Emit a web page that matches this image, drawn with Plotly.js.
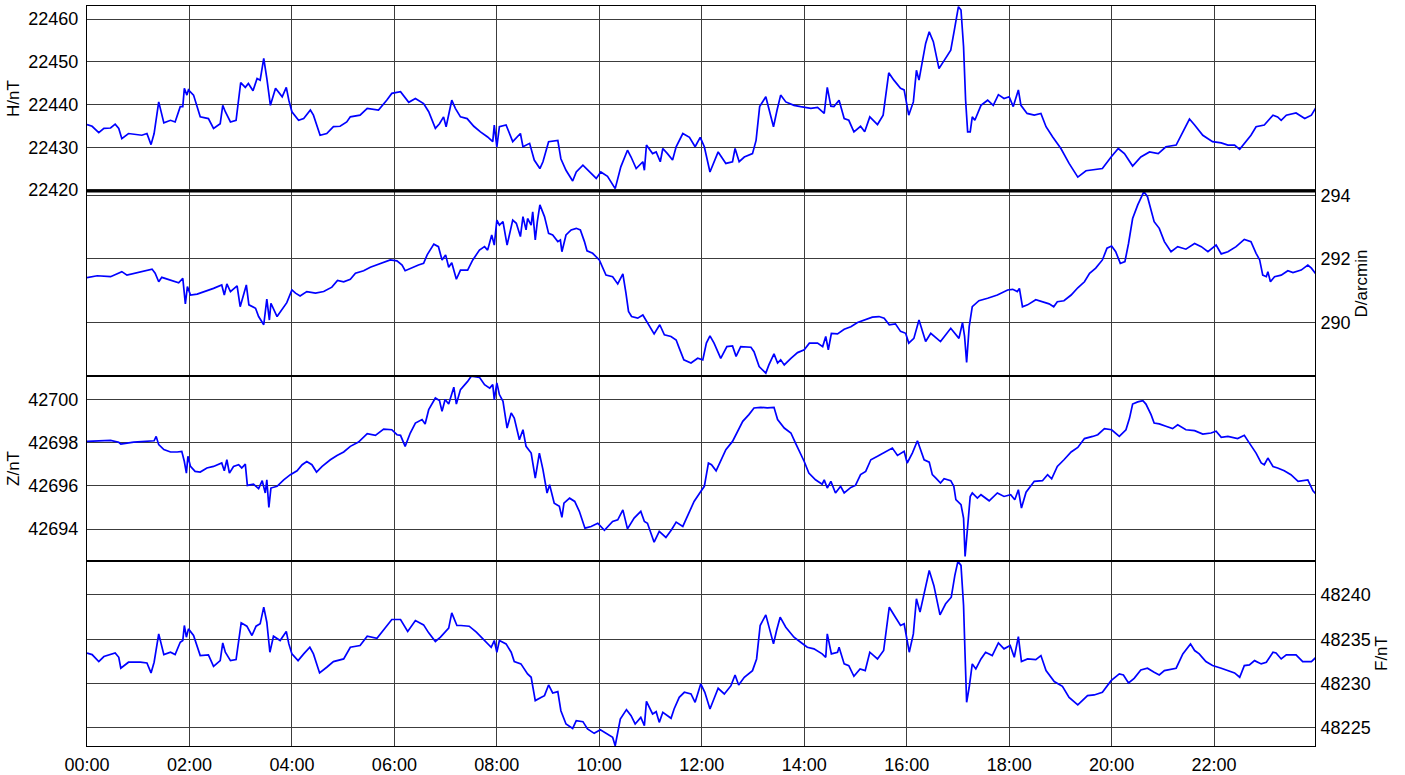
<!DOCTYPE html>
<html>
<head>
<meta charset="utf-8">
<script src="https://cdn.plot.ly/plotly-3.0.1.min.js"></script>
<style>
html,body{margin:0;padding:0;background:#fff;}
#chart{width:1405px;height:775px;}
</style>
</head>
<body>
<div id="chart"></div>
<script>
// ---- tick labels ----
const timeTickVals = [0, 2, 4, 6, 8, 10, 12, 14, 16, 18, 20, 22];
const timeTickText = ["00:00","02:00","04:00","06:00","08:00","10:00","12:00","14:00","16:00","18:00","20:00","22:00"];

// ---- H component (nT), time in hours ----
const hTime = [0.00,0.10,0.23,0.33,0.46,0.55,0.62,0.68,0.81,0.98,1.07,1.17,1.25,1.31,1.40,1.50,1.63,1.72,1.82,1.87,1.90,1.95,1.98,2.08,2.21,2.37,2.47,2.60,2.65,2.70,2.80,2.91,3.00,3.09,3.15,3.24,3.32,3.38,3.45,3.51,3.58,3.68,3.81,3.89,3.94,4.00,4.13,4.23,4.36,4.42,4.55,4.68,4.81,4.94,5.07,5.14,5.33,5.47,5.69,5.85,5.95,6.12,6.28,6.41,6.57,6.67,6.80,6.88,6.96,7.01,7.06,7.12,7.19,7.29,7.42,7.55,7.68,
7.82,7.92,7.95,8.00,8.05,8.18,8.31,8.46,8.51,8.64,8.73,8.84,8.90,9.01,9.19,9.25,9.35,9.48,9.55,9.68,9.84,9.94,10.03,10.16,10.31,10.42,10.55,10.62,10.72,10.85,10.88,10.92,11.04,11.11,11.19,11.24,11.33,11.43,11.50,11.63,11.76,11.87,11.97,12.05,12.16,12.32,12.47,12.60,12.65,12.73,12.83,12.99,13.06,13.13,13.25,13.32,13.40,13.47,13.54,13.64,13.80,13.93,14.13,14.26,14.39,14.45,14.52,14.58,14.68,14.78,14.87,14.97,15.10,15.18,15.28,15.43,15.54,15.65,15.75,15.88,15.95,16.04,16.13,16.19,16.24,
16.27,16.37,16.44,16.52,16.63,16.73,16.86,16.93,17.01,17.06,17.11,17.15,17.19,17.24,17.28,17.33,17.45,17.58,17.69,17.79,17.90,18.00,18.08,18.18,18.23,18.35,18.49,18.62,18.72,18.85,19.01,19.17,19.34,19.50,19.66,19.82,19.99,20.13,20.25,20.41,20.57,20.74,20.91,21.06,21.26,21.39,21.52,21.62,21.78,21.97,22.14,22.27,22.40,22.50,22.59,22.72,22.82,22.98,23.15,23.24,23.31,23.41,23.60,23.77,23.90,23.99];
const hValues = [22435.3,22434.9,22433.4,22434.4,22434.5,22435.4,22434.4,22432.0,22433.2,22433.0,22432.8,22433.2,22430.6,22433.2,22440.6,22435.7,22436.3,22435.9,22439.5,22439.5,22443.8,22442.2,22443.4,22442.2,22437.1,22436.7,22434.4,22435.5,22439.8,22438.3,22435.9,22436.3,22445.1,22444.0,22444.9,22443.2,22446.1,22445.7,22450.8,22446.1,22439.8,22443.8,22441.8,22444.0,22441.0,22438.3,22436.3,22436.7,22438.7,22437.5,22432.8,22433.2,22434.8,22434.9,22435.9,22437.1,22437.5,22439.1,22438.7,22441.0,22442.6,22443.0,22440.5,22441.4,22440.2,22438.3,22434.4,22435.5,22437.1,22434.8,22437.5,22441.0,22439.1,22437.1,22436.7,22434.9,22433.6,
22432.4,22431.3,22435.2,22430.1,22434.8,22435.2,22431.3,22433.2,22430.1,22430.9,22427.0,22425.0,22426.6,22431.3,22431.6,22427.3,22424.6,22422.1,22424.2,22425.8,22423.8,22422.7,22424.2,22423.2,22420.3,22425.4,22429.3,22427.7,22425.0,22426.6,22424.6,22430.5,22428.5,22428.9,22426.6,22429.7,22428.5,22427.0,22430.1,22433.2,22432.3,22430.1,22432.3,22430.1,22424.2,22428.9,22426.2,22426.6,22429.7,22426.6,22427.7,22428.5,22431.6,22439.5,22441.8,22438.7,22434.8,22438.7,22442.2,22440.6,22439.8,22439.5,22439.1,22439.3,22437.9,22444.0,22439.6,22439.5,22441.0,22436.7,22436.3,22433.6,22434.9,22433.6,22437.1,22435.3,22437.5,22447.4,22445.7,22443.8,22443.4,22437.5,22440.6,22448.0,22445.7,
22447.7,22454.3,22457.0,22454.7,22448.4,22450.4,22452.7,22457.4,22462.9,22462.1,22453.5,22441.0,22433.6,22433.6,22437.1,22436.3,22439.8,22441.0,22439.8,22442.3,22441.4,22441.8,22439.5,22443.4,22439.8,22437.9,22437.5,22437.9,22434.8,22432.4,22429.7,22426.2,22423.0,22424.5,22424.8,22425.0,22427.7,22429.7,22428.5,22425.6,22427.7,22428.9,22428.5,22430.1,22430.5,22433.6,22436.6,22435.2,22432.8,22431.3,22431.0,22430.5,22430.5,22429.5,22430.9,22432.8,22434.8,22435.2,22437.5,22437.1,22436.3,22437.5,22438.0,22436.7,22437.5,22439.3];

// ---- D component (arcmin) ----
const dTime = [0.00,0.20,0.46,0.68,0.78,0.98,1.17,1.27,1.33,1.40,1.46,1.63,1.79,1.87,1.92,1.96,2.02,2.15,2.31,2.47,2.63,2.68,2.73,2.80,2.93,2.99,3.11,3.16,3.29,3.35,3.45,3.51,3.56,3.59,3.71,3.84,3.90,4.00,4.07,4.16,4.29,4.46,4.62,4.78,4.89,5.01,5.14,5.24,5.40,5.53,5.72,5.92,6.05,6.15,6.21,6.38,6.47,6.57,6.64,6.77,6.86,6.93,7.00,7.06,7.12,7.21,7.29,
7.43,7.53,7.66,7.76,7.82,7.90,7.95,8.00,8.05,8.12,8.20,8.31,8.38,8.46,8.51,8.57,8.60,8.67,8.70,8.75,8.79,8.84,8.93,9.01,9.09,9.19,9.24,9.27,9.35,9.45,9.55,9.63,9.71,9.76,9.87,9.94,10.00,10.13,10.26,10.36,10.46,10.52,10.57,10.63,10.75,10.85,10.93,11.07,11.18,11.27,11.40,11.50,11.56,11.65,11.79,11.92,12.02,12.09,12.16,12.24,12.37,12.49,12.60,12.67,12.76,12.96,13.02,13.12,13.25,13.31,13.41,13.48,13.54,13.61,13.74,13.87,14.00,14.10,14.26,14.36,14.42,14.47,14.53,14.65,14.78,14.91,15.04,15.17,15.33,15.46,15.56,15.66,15.78,15.88,15.98,16.04,16.14,16.24,
16.37,16.47,16.66,16.86,17.02,17.09,17.13,17.17,17.22,17.28,17.41,17.58,17.77,17.97,18.07,18.16,18.20,18.26,18.36,18.52,18.68,18.78,18.87,18.94,19.07,19.21,19.34,19.47,19.57,19.69,19.82,19.91,20.00,20.08,20.17,20.26,20.33,20.41,20.51,20.63,20.70,20.83,20.93,21.03,21.16,21.29,21.45,21.62,21.75,21.88,22.04,22.14,22.27,22.43,22.59,22.72,22.82,22.89,22.95,23.02,23.05,23.10,23.18,23.31,23.44,23.54,23.70,23.83,23.90,23.99];
const dValues = [291.41,291.47,291.44,291.60,291.49,291.57,291.63,291.68,291.55,291.28,291.42,291.34,291.25,291.39,290.58,291.13,290.86,290.89,290.97,291.07,291.18,290.86,291.21,290.97,291.15,290.49,291.18,290.55,290.44,290.18,289.92,290.73,290.07,290.60,290.18,290.49,290.62,291.02,290.92,290.83,290.97,290.92,290.97,291.11,291.32,291.28,291.36,291.55,291.63,291.74,291.84,291.97,291.94,291.81,291.63,291.76,291.81,291.86,292.13,292.47,292.39,291.97,292.13,291.74,291.88,291.36,291.65,
291.65,291.97,292.28,292.39,292.28,292.76,292.44,293.23,293.07,293.18,292.44,293.23,293.13,292.71,293.34,292.92,293.28,293.07,293.49,292.60,293.18,293.71,293.34,292.81,292.76,292.55,292.60,292.23,292.76,292.92,292.97,292.92,292.55,292.26,292.18,292.05,291.97,291.49,291.44,291.21,291.53,290.92,290.34,290.18,290.13,290.23,290.02,289.63,289.92,289.60,289.55,289.44,289.18,288.81,288.71,288.86,288.81,289.34,289.57,289.34,288.86,289.23,289.25,288.92,289.23,289.21,289.07,288.60,288.39,288.65,289.00,288.71,288.81,288.65,288.86,289.04,289.13,289.34,289.34,289.23,289.55,289.13,289.65,289.63,289.78,289.86,289.99,290.07,290.16,290.18,290.13,289.92,289.95,289.71,289.65,289.34,289.49,290.07,
289.39,289.65,289.39,289.81,289.49,289.99,289.55,288.73,289.86,290.49,290.68,290.76,290.86,291.02,291.04,290.97,291.07,290.49,290.55,290.71,290.62,290.58,290.49,290.65,290.68,290.86,291.09,291.28,291.55,291.71,291.97,292.34,292.41,292.23,291.86,291.92,292.49,293.28,293.71,294.13,293.97,293.18,292.97,292.55,292.23,292.39,292.31,292.49,292.39,292.23,292.44,292.16,292.23,292.39,292.62,292.55,292.18,291.97,291.49,291.44,291.60,291.28,291.44,291.49,291.63,291.57,291.65,291.81,291.71,291.52];

// ---- Z component (nT) ----
const zTime = [0.00,0.20,0.46,0.62,0.66,0.91,1.17,1.31,1.35,1.40,1.50,1.63,1.76,1.85,1.90,1.94,1.97,2.02,2.11,2.21,2.34,2.47,2.63,2.68,2.73,2.78,2.86,2.96,3.02,3.09,3.13,3.25,3.35,3.42,3.48,3.51,3.55,3.59,3.71,3.84,3.97,4.10,4.20,4.29,4.39,4.48,4.59,4.75,4.88,5.01,5.14,5.30,5.47,5.63,5.79,5.95,6.05,6.12,6.21,6.31,6.41,6.54,6.60,6.67,6.80,6.88,6.93,6.99,7.06,7.16,7.21,7.29,
7.43,7.50,7.66,7.76,7.86,7.92,7.95,8.00,8.05,8.12,8.20,8.28,8.34,8.44,8.51,8.57,8.67,8.75,8.83,8.90,8.98,9.03,9.12,9.22,9.27,9.31,9.42,9.52,9.61,9.72,9.84,9.97,10.10,10.26,10.36,10.46,10.55,10.68,10.81,10.88,10.94,11.07,11.17,11.30,11.41,11.50,11.63,11.72,11.85,11.98,12.05,12.13,12.19,12.28,12.37,12.47,12.60,12.70,12.80,12.92,13.02,13.15,13.28,13.41,13.48,13.61,13.74,13.83,14.00,14.09,14.22,14.35,14.39,14.45,14.52,14.61,14.71,14.78,14.91,15.00,15.10,15.20,15.30,15.43,15.59,15.72,15.82,15.95,16.01,16.11,16.21,
16.27,16.34,16.44,16.50,16.57,16.66,16.73,16.86,16.92,16.96,17.06,17.11,17.14,17.19,17.24,17.28,17.38,17.45,17.61,17.77,17.90,18.03,18.11,18.18,18.24,18.33,18.49,18.65,18.75,18.83,18.94,19.07,19.21,19.34,19.47,19.63,19.73,19.86,20.00,20.15,20.28,20.35,20.41,20.51,20.61,20.67,20.77,20.83,20.93,21.06,21.19,21.29,21.45,21.62,21.78,21.94,22.04,22.14,22.27,22.46,22.59,22.69,22.82,22.92,22.98,23.05,23.15,23.24,23.37,23.50,23.64,23.83,23.93,23.99];
const zValues = [42698.06,42698.09,42698.11,42698.02,42697.94,42698.03,42698.06,42698.09,42698.29,42697.91,42697.68,42697.57,42697.57,42697.60,42697.13,42696.59,42697.37,42696.90,42696.67,42696.64,42696.83,42696.90,42697.06,42696.70,42697.21,42696.59,42696.90,42696.98,42696.83,42697.01,42696.02,42696.08,42695.87,42696.24,42695.67,42696.28,42695.00,42695.90,42695.98,42696.28,42696.52,42696.70,42696.98,42697.13,42696.98,42696.64,42696.90,42697.21,42697.41,42697.57,42697.83,42698.03,42698.42,42698.34,42698.63,42698.60,42698.37,42698.34,42697.83,42698.45,42698.91,42699.07,42698.87,42699.53,42700.07,42699.95,42699.45,42700.00,42699.79,42700.57,42699.79,42700.46,
42700.84,42701.08,42701.03,42700.69,42700.53,42700.69,42699.99,42700.77,42700.23,42699.92,42698.68,42699.38,42699.14,42698.14,42698.60,42697.83,42697.52,42696.36,42697.52,42696.75,42695.67,42696.05,42695.20,42695.05,42694.54,42695.20,42695.43,42695.28,42694.82,42694.04,42694.12,42694.27,42693.94,42694.35,42694.43,42694.89,42694.01,42694.51,42694.82,42694.35,42694.27,42693.39,42693.89,42693.61,42693.97,42694.32,42694.12,42694.58,42695.28,42695.74,42695.98,42697.06,42696.98,42696.70,42697.13,42697.68,42698.06,42698.53,42698.99,42699.30,42699.61,42699.64,42699.61,42699.64,42699.07,42698.68,42698.45,42697.98,42697.13,42696.59,42696.28,42696.08,42696.28,42695.90,42696.21,42695.67,42695.98,42695.67,42695.93,42696.02,42696.52,42696.67,42697.21,42697.37,42697.60,42697.75,42697.41,42697.60,42697.06,42697.52,42698.09,
42697.68,42697.21,42697.10,42696.52,42696.36,42696.13,42696.33,42696.24,42695.98,42695.36,42695.13,42694.51,42692.73,42694.04,42695.51,42695.67,42695.43,42695.59,42695.31,42695.67,42695.51,42695.59,42695.36,42695.82,42694.97,42695.71,42696.21,42696.24,42696.52,42696.33,42696.90,42697.21,42697.57,42697.78,42698.19,42698.29,42698.37,42698.65,42698.60,42698.29,42698.60,42699.14,42699.79,42699.89,42699.95,42699.79,42699.30,42698.91,42698.87,42698.76,42698.65,42698.83,42698.60,42698.56,42698.40,42698.45,42698.53,42698.25,42698.29,42698.19,42698.34,42697.98,42697.52,42697.06,42696.98,42697.29,42696.90,42696.83,42696.70,42696.52,42696.21,42696.28,42695.77,42695.62];

// ---- F total intensity (nT) ----
const fTime = [0.00,0.10,0.23,0.33,0.55,0.62,0.66,0.81,1.04,1.17,1.25,1.31,1.40,1.50,1.63,1.72,1.82,1.87,1.90,1.94,1.98,2.08,2.21,2.37,2.47,2.60,2.65,2.70,2.80,2.91,3.01,3.12,3.22,3.30,3.38,3.45,3.51,3.57,3.64,3.77,3.89,3.94,4.00,4.12,4.23,4.35,4.42,4.54,4.68,4.81,5.01,5.14,5.33,5.47,5.66,5.86,5.95,6.12,6.26,6.41,6.57,6.67,6.80,6.90,6.96,7.06,7.12,7.22,
7.30,7.46,7.60,7.76,7.89,7.95,8.00,8.05,8.18,8.28,8.34,8.47,8.60,8.67,8.75,8.87,8.93,9.01,9.09,9.19,9.25,9.35,9.48,9.55,9.68,9.77,9.90,10.02,10.16,10.26,10.31,10.41,10.53,10.62,10.70,10.81,10.88,10.92,11.04,11.11,11.17,11.24,11.40,11.46,11.56,11.66,11.79,11.87,11.98,12.06,12.16,12.32,12.44,12.57,12.65,12.72,12.83,12.99,13.07,13.14,13.25,13.31,13.40,13.46,13.53,13.64,13.80,13.93,14.06,14.19,14.35,14.42,14.45,14.53,14.65,14.68,14.78,14.87,14.97,15.09,15.19,15.28,15.43,15.55,15.66,15.78,15.88,15.95,16.05,16.13,16.19,16.26,
16.34,16.44,16.53,16.65,16.76,16.87,16.94,17.00,17.06,17.11,17.14,17.17,17.22,17.28,17.35,17.45,17.54,17.67,17.79,17.90,18.02,18.10,18.18,18.24,18.36,18.52,18.62,18.72,18.88,19.04,19.17,19.34,19.53,19.66,19.82,19.99,20.15,20.23,20.33,20.44,20.57,20.70,20.83,20.93,21.03,21.26,21.39,21.54,21.62,21.71,21.84,21.97,22.14,22.27,22.40,22.50,22.59,22.69,22.79,22.92,23.02,23.15,23.21,23.31,23.41,23.60,23.73,23.90,23.99];
const fValues = [48233.42,48233.26,48232.47,48233.04,48233.45,48232.96,48231.72,48232.40,48232.40,48232.32,48231.19,48232.40,48235.60,48233.26,48233.53,48233.26,48234.66,48234.85,48236.55,48235.23,48236.17,48235.42,48233.15,48233.23,48231.94,48232.58,48234.58,48233.53,48232.58,48232.70,48236.85,48236.47,48235.42,48236.47,48236.74,48238.62,48236.92,48233.53,48235.34,48234.85,48235.87,48234.47,48233.34,48232.58,48233.34,48234.09,48233.34,48231.19,48231.83,48232.47,48232.77,48234.09,48234.28,48235.34,48235.11,48236.55,48237.23,48237.23,48235.87,48237.11,48236.62,48235.72,48234.74,48235.23,48235.60,48236.25,48237.98,48236.55,
48236.55,48236.47,48235.79,48234.85,48234.09,48234.85,48233.53,48234.85,48234.47,48233.53,48232.47,48232.21,48231.08,48230.70,48228.06,48228.43,48228.62,48229.83,48228.92,48229.08,48226.92,48225.42,48224.92,48225.79,48225.68,48224.85,48224.36,48224.77,48224.28,48223.91,48222.96,48225.98,48227.04,48226.36,48225.42,48226.17,48225.23,48227.98,48226.55,48226.81,48225.60,48226.74,48226.06,48227.11,48228.43,48229.00,48228.81,48227.87,48229.94,48229.00,48227.11,48229.45,48228.81,48229.75,48230.96,48229.83,48230.70,48231.45,48232.77,48236.55,48237.75,48236.36,48234.47,48235.98,48237.49,48236.36,48235.23,48234.66,48234.09,48233.91,48233.34,48232.96,48235.60,48233.34,48233.53,48234.09,48232.21,48232.02,48230.81,48231.64,48231.45,48233.53,48232.77,48233.72,48238.62,48237.49,48236.55,48236.74,48233.53,48235.60,48239.57,48238.06,
48240.32,48242.77,48241.08,48237.75,48239.00,48239.75,48242.21,48243.79,48243.34,48238.81,48233.15,48227.87,48229.57,48232.21,48231.64,48232.77,48233.53,48233.15,48234.58,48233.91,48234.28,48232.96,48235.30,48232.47,48232.77,48232.70,48233.15,48231.45,48230.21,48229.68,48228.43,48227.57,48228.62,48228.70,48229.00,48230.32,48231.08,48230.96,48230.06,48230.58,48231.53,48231.72,48231.26,48230.96,48231.45,48231.72,48233.34,48234.47,48233.72,48233.34,48232.47,48232.02,48231.72,48231.45,48231.19,48230.70,48232.02,48232.09,48232.58,48232.21,48232.40,48233.53,48233.45,48232.77,48233.23,48233.23,48232.47,48232.47,48232.96];

// ---- axis titles ----
const axisTitles = ["H/nT", "D/arcmin", "Z/nT", "F/nT"];

const FONT = "Liberation Sans, Arial, sans-serif";
const BLUE = "#0000ff";
const GRID = "#3c3c3c";

function trace(x, y, yaxis) {
  return {x: x, y: y, yaxis: yaxis, xaxis: "x", type: "scatter", mode: "lines",
          line: {color: BLUE, width: 1.7}, hoverinfo: "skip", showlegend: false};
}

const data = [
  trace(hTime, hValues, "y"),
  trace(dTime, dValues, "y2"),
  trace(zTime, zValues, "y3"),
  trace(fTime, fValues, "y4")
];

function yax(domain, range, dtick, side, title, standoff) {
  return {
    domain: domain, range: range, dtick: dtick, tick0: 0, side: side, anchor: "x",
    tickformat: "d", separatethousands: false, exponentformat: "none",
    showgrid: true, gridcolor: GRID, gridwidth: 1, zeroline: false,
    showline: true, linecolor: "#000", linewidth: 1, mirror: true,
    ticks: "", ticklabelstandoff: side === "left" ? 4 : 1,
    tickfont: {family: FONT, size: 18, color: "#000"},
    title: {text: title, font: {family: FONT, size: 17, color: "#000"}, standoff: standoff},
    fixedrange: true, automargin: false
  };
}

const layout = {
  width: 1405, height: 775,
  margin: {l: 87, r: 90, t: 6, b: 29},
  paper_bgcolor: "#fff", plot_bgcolor: "#fff",
  font: {family: FONT, size: 18, color: "#000"},
  showlegend: false,
  hovermode: false,
  xaxis: {
    domain: [0, 1], range: [0, 23.97], anchor: "y4",
    tickmode: "array", tickvals: timeTickVals, ticktext: timeTickText,
    showgrid: true, gridcolor: GRID, gridwidth: 1, zeroline: false,
    showline: true, linecolor: "#000", linewidth: 1, mirror: "all",
    ticks: "", ticklabelstandoff: 2,
    tickfont: {family: FONT, size: 18, color: "#000"},
    fixedrange: true
  },
  yaxis:  yax([0.75, 1.0], [22419.75, 22463.05], 10, "left", axisTitles[0], 4),
  yaxis2: yax([0.5, 0.75], [288.30, 294.15], 2, "right", axisTitles[1], 5),
  yaxis3: yax([0.25, 0.5], [42692.52, 42701.09], 2, "left", axisTitles[2], 4),
  yaxis4: yax([0.0, 0.25], [48222.93, 48243.84], 5, "right", axisTitles[3], 5),
  shapes: [
    {type: "line", xref: "paper", yref: "paper", x0: 0, x1: 1, y0: 0.75, y1: 0.75, line: {color: "#000", width: 3}, layer: "above"},
    {type: "line", xref: "paper", yref: "paper", x0: 0, x1: 1, y0: 0.5, y1: 0.5, line: {color: "#000", width: 2}, layer: "above"},
    {type: "line", xref: "paper", yref: "paper", x0: 0, x1: 1, y0: 0.25, y1: 0.25, line: {color: "#000", width: 2}, layer: "above"}
  ]
};

Plotly.newPlot("chart", data, layout, {displayModeBar: false, staticPlot: true});
</script>
</body>
</html>
